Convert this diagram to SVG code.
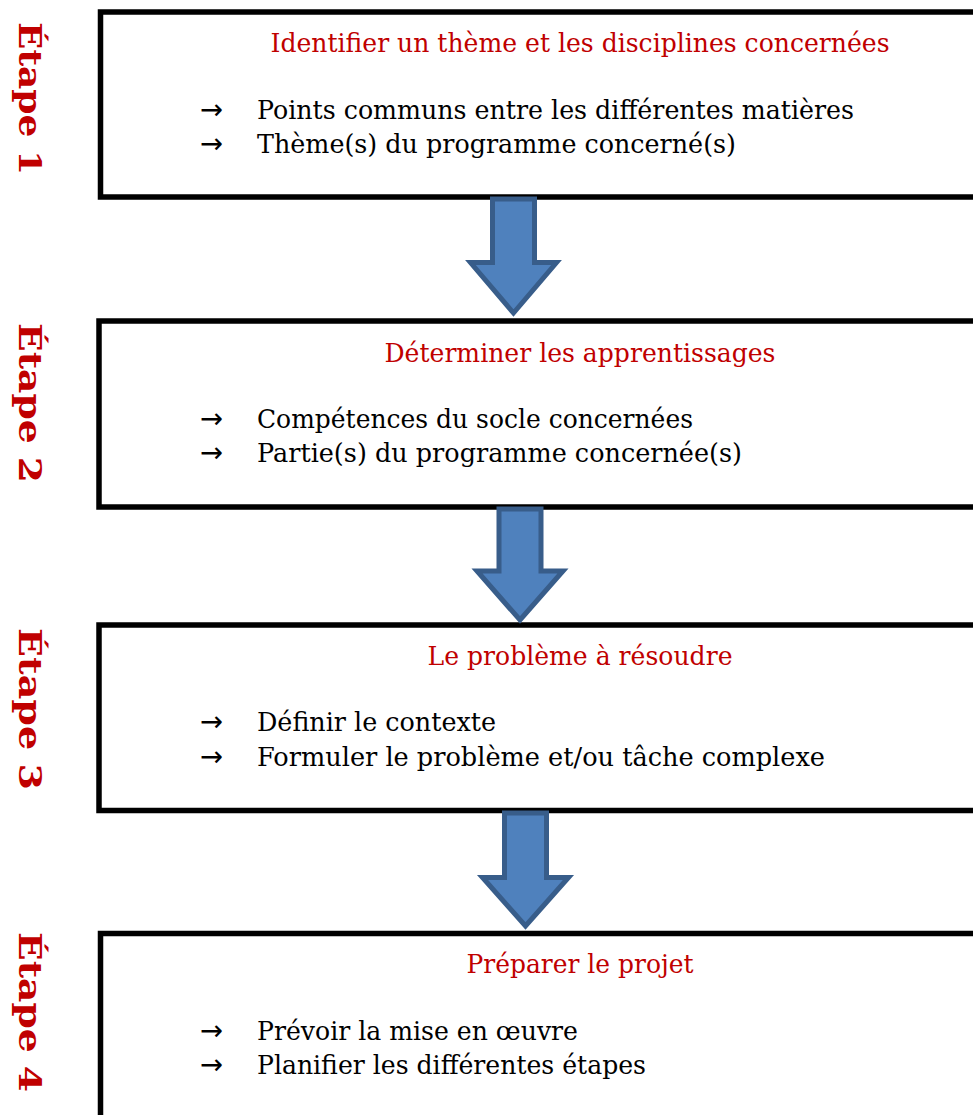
<svg xmlns="http://www.w3.org/2000/svg" width="973" height="1115" viewBox="0 0 973 1115">
<style>
.box{fill:#fff;stroke:#000;stroke-width:5.5}
.title{font-family:"DejaVu Serif","Liberation Serif",serif;font-size:26.5px;fill:#c00000;text-anchor:middle}
.item{font-family:"DejaVu Serif","Liberation Serif",serif;font-size:26.5px;fill:#000}
.arr{font-family:"DejaVu Sans","Liberation Sans",sans-serif;font-size:28px;fill:#000}
.step{font-family:"DejaVu Serif","Liberation Serif",serif;font-size:32.5px;font-weight:bold;fill:#c00000}
.conn{fill:#4f81bd;stroke:#385d8a;stroke-width:5;stroke-linejoin:miter}
</style>
<rect width="973" height="1115" fill="#fff"/>
<g id="step1">
<rect class="box" x="100.5" y="12" width="890" height="185"/>
<text class="step" transform="translate(19,22) rotate(90)" textLength="153" lengthAdjust="spacingAndGlyphs">Étape 1</text>
<text class="title" x="580" y="52" textLength="619" lengthAdjust="spacingAndGlyphs">Identifier un thème et les disciplines concernées</text>
<text class="arr" x="200" y="119" textLength="23" lengthAdjust="spacingAndGlyphs">→</text>
<text class="item" x="257" y="119" textLength="597" lengthAdjust="spacingAndGlyphs">Points communs entre les différentes matières</text>
<text class="arr" x="200" y="153" textLength="23" lengthAdjust="spacingAndGlyphs">→</text>
<text class="item" x="257" y="153" textLength="479" lengthAdjust="spacingAndGlyphs">Thème(s) du programme concerné(s)</text>
</g>
<g id="step2">
<rect class="box" x="99" y="321" width="890" height="186"/>
<text class="step" transform="translate(19,323) rotate(90)" textLength="160" lengthAdjust="spacingAndGlyphs">Étape 2</text>
<text class="title" x="580" y="362" textLength="391" lengthAdjust="spacingAndGlyphs">Déterminer les apprentissages</text>
<text class="arr" x="200" y="428" textLength="23" lengthAdjust="spacingAndGlyphs">→</text>
<text class="item" x="257" y="428" textLength="436" lengthAdjust="spacingAndGlyphs">Compétences du socle concernées</text>
<text class="arr" x="200" y="462" textLength="23" lengthAdjust="spacingAndGlyphs">→</text>
<text class="item" x="257" y="462" textLength="485" lengthAdjust="spacingAndGlyphs">Partie(s) du programme concernée(s)</text>
</g>
<g id="step3">
<rect class="box" x="99" y="625" width="890" height="185.5"/>
<text class="step" transform="translate(19,628) rotate(90)" textLength="162" lengthAdjust="spacingAndGlyphs">Étape 3</text>
<text class="title" x="580" y="665" textLength="305" lengthAdjust="spacingAndGlyphs">Le problème à résoudre</text>
<text class="arr" x="200" y="731" textLength="23" lengthAdjust="spacingAndGlyphs">→</text>
<text class="item" x="257" y="731" textLength="239" lengthAdjust="spacingAndGlyphs">Définir le contexte</text>
<text class="arr" x="200" y="766" textLength="23" lengthAdjust="spacingAndGlyphs">→</text>
<text class="item" x="257" y="766" textLength="568" lengthAdjust="spacingAndGlyphs">Formuler le problème et/ou tâche complexe</text>
</g>
<g id="step4">
<rect class="box" x="100.5" y="933.5" width="890" height="200"/>
<text class="step" transform="translate(19,932) rotate(90)" textLength="160" lengthAdjust="spacingAndGlyphs">Étape 4</text>
<text class="title" x="580" y="973" textLength="227" lengthAdjust="spacingAndGlyphs">Préparer le projet</text>
<text class="arr" x="200" y="1040" textLength="23" lengthAdjust="spacingAndGlyphs">→</text>
<text class="item" x="257" y="1040" textLength="321" lengthAdjust="spacingAndGlyphs">Prévoir la mise en œuvre</text>
<text class="arr" x="200" y="1074" textLength="23" lengthAdjust="spacingAndGlyphs">→</text>
<text class="item" x="257" y="1074" textLength="389" lengthAdjust="spacingAndGlyphs">Planifier les différentes étapes</text>
</g>
<g id="connectors">
<path class="conn" d="M492.5,199 H534.5 V262.5 H556.5 L513.5,313 L470.5,262.5 H492.5 Z"/>
<path class="conn" d="M499,509 H541 V571 H563 L520,620 L477,571 H499 Z"/>
<path class="conn" d="M504.5,813 H546.5 V877.5 H568.5 L525.5,926 L482.5,877.5 H504.5 Z"/>
</g>
</svg>
